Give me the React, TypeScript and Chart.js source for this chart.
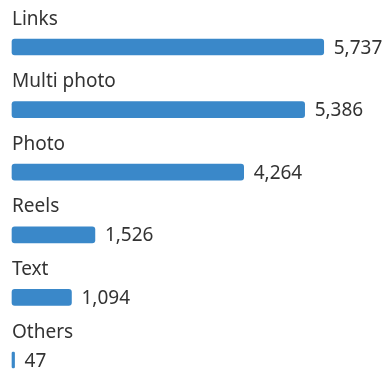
import React, { useEffect, useRef } from "react";
import { Chart, registerables } from "chart.js";

Chart.register(...registerables);

const categories = ["Links", "Multi photo", "Photo", "Reels", "Text", "Others"];
const values = [5737, 5386, 4264, 1526, 1094, 47];
const valueLabels = ["5,737", "5,386", "4,264", "1,526", "1,094", "47"];

const FONT = '"Noto Sans", sans-serif';

const labelPlugin = {
  id: "labelPlugin",
  afterDatasetsDraw(chart: any) {
    const ctx = chart.ctx;
    const meta = chart.getDatasetMeta(0);
    ctx.save();
    ctx.font = `19px ${FONT}`;
    ctx.fillStyle = "#333333";
    ctx.textBaseline = "alphabetic";
    ctx.textAlign = "left";
    meta.data.forEach((bar: any, i: number) => {
      ctx.fillText(categories[i], chart.chartArea.left + 0, bar.y - 22.5);
      ctx.fillText(valueLabels[i], bar.x + 10, bar.y + 6.5);
    });
    ctx.restore();
  },
};

export default function App() {
  const ref = useRef<HTMLCanvasElement>(null);
  useEffect(() => {
    const chart = new Chart(ref.current!, {
      type: "bar",
      data: {
        labels: categories,
        datasets: [
          {
            data: values,
            backgroundColor: "#3a88c9",
            barThickness: 16,
            borderRadius: 3,
            borderSkipped: false,
            clip: false,
          },
        ],
      },
      options: {
        indexAxis: "y",
        animation: false,
        responsive: false,
        maintainAspectRatio: false,
        layout: { padding: { left: 12, right: 52, top: 47, bottom: 9 } },
        plugins: { legend: { display: false }, tooltip: { enabled: false } },
        scales: {
          x: { display: false, min: 0, max: 6000 },
          y: { display: false, offset: false },
        },
      },
      plugins: [labelPlugin],
    });
    return () => chart.destroy();
  }, []);
  return (
    <div style={{ position: "absolute", left: 0, top: 0 }}>
      <canvas ref={ref} width={390} height={369} style={{ display: "block" }} />
    </div>
  );
}
